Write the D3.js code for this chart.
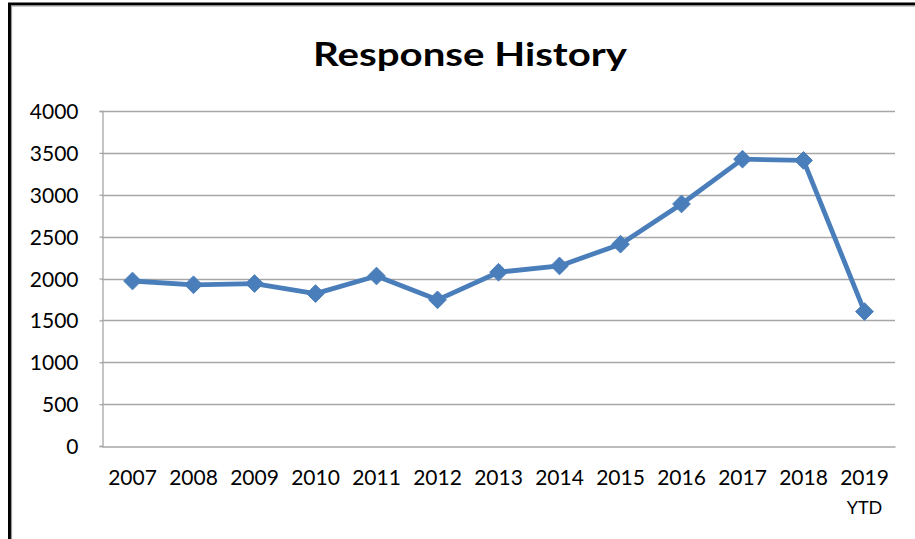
<!DOCTYPE html>
<html>
<head>
<meta charset="utf-8">
<script src="https://cdn.jsdelivr.net/npm/d3@7"></script>
<style>
  html, body { margin: 0; padding: 0; background: #fff; }
  svg { display: block; }
  text { font-family: Lato, "Open Sans", sans-serif; fill: #000; }
</style>
</head>
<body>
<svg id="chart" width="915" height="539"></svg>
<script>
// Yearly response counts
const years = ["2007", "2008", "2009", "2010", "2011", "2012", "2013",
               "2014", "2015", "2016", "2017", "2018", "2019"];
const yearSubLabels = ["", "", "", "", "", "", "", "", "", "", "", "", "YTD"];
const responses = [1970, 1925, 1940, 1820, 2030, 1745, 2075,
                   2150, 2410, 2890, 3425, 3410, 1605];
const yTicks = [0, 500, 1000, 1500, 2000, 2500, 3000, 3500, 4000];
const chartTitle = "Response History";

const W = 915, H = 539;
const margin = { left: 102, right: 20, top: 111, bottom: 93 };
const svg = d3.select("#chart");

// Chart frame (only top and left edges fall inside the view)
svg.append("rect").attr("x", 0).attr("y", 0).attr("width", W).attr("height", H).attr("fill", "#fff");
svg.append("line").attr("x1", 9.5).attr("x2", 9.5).attr("y1", 3).attr("y2", H).attr("stroke", "#000").attr("stroke-width", 3);
svg.append("line").attr("x1", 8).attr("x2", W).attr("y1", 4).attr("y2", 4).attr("stroke", "#000").attr("stroke-width", 3);
svg.append("line").attr("x1", 11.5).attr("x2", 11.5).attr("y1", 5.5).attr("y2", H).attr("stroke", "#9a9a9a").attr("stroke-width", 1.2);
svg.append("line").attr("x1", 11).attr("x2", W).attr("y1", 6).attr("y2", 6).attr("stroke", "#9a9a9a").attr("stroke-width", 1.2);

const x = d3.scaleBand().domain(years).range([margin.left, W - margin.right]);
const y = d3.scaleLinear().domain([0, 4000]).range([H - margin.bottom, margin.top]);

// Title
svg.append("text")
  .attr("x", 470).attr("y", 66)
  .attr("text-anchor", "middle")
  .attr("textLength", 314)
  .attr("lengthAdjust", "spacingAndGlyphs")
  .style("font-weight", "bold")
  .style("font-size", "32px")
  .text(chartTitle);

// Horizontal gridlines
svg.append("g")
  .selectAll("line")
  .data(yTicks.filter(d => d > 0))
  .join("line")
  .attr("x1", margin.left).attr("x2", W - margin.right)
  .attr("y1", d => Math.round(y(d)) + 0.5).attr("y2", d => Math.round(y(d)) + 0.5)
  .attr("stroke", "#a6a6a6").attr("stroke-width", 1.3);

// Y axis
const yAxis = svg.append("g")
  .attr("transform", `translate(${margin.left + 0.5},0)`)
  .call(d3.axisLeft(y).tickValues(yTicks).tickSize(3).tickPadding(21).tickFormat(d3.format("d")));
yAxis.select(".domain").attr("stroke", "#a6a6a6").attr("stroke-width", 1.3);
yAxis.selectAll(".tick line").attr("stroke", "#a6a6a6").attr("stroke-width", 1.3);
yAxis.selectAll(".tick text").style("font-size", "21px").style("font-family", "Lato, sans-serif").attr("fill", "#000").attr("dy", "0.36em");

// X axis
const xAxis = svg.append("g")
  .attr("transform", `translate(0,${Math.round(y(0)) + 0.5})`)
  .call(d3.axisBottom(x).tickSize(0).tickPadding(24));
xAxis.select(".domain").attr("stroke", "#a6a6a6").attr("stroke-width", 1.3);
xAxis.selectAll(".tick text")
  .style("font-size", "21px").style("font-family", "Lato, sans-serif").attr("fill", "#000")
  .each(function (d, i) {
    const sub = yearSubLabels[i];
    if (sub) {
      d3.select(this).append("tspan")
        .attr("x", 0).attr("dy", "1.6em")
        .style("font-size", "18px")
        .text(sub);
    }
  });

// Series line
const line = d3.line()
  .x((d, i) => x(years[i]) + x.bandwidth() / 2)
  .y(d => y(d));
svg.append("path")
  .datum(responses)
  .attr("d", line)
  .attr("fill", "none")
  .attr("stroke", "#4a7ebb")
  .attr("stroke-width", 4.8)
  .attr("stroke-linejoin", "round");

// Diamond markers
const diamond = d3.symbol().type(d3.symbolDiamond2).size(200);
svg.append("g")
  .selectAll("path")
  .data(responses)
  .join("path")
  .attr("transform", (d, i) => `translate(${x(years[i]) + x.bandwidth() / 2},${y(d)})`)
  .attr("d", diamond)
  .attr("fill", "#4a7ebb")
  .attr("stroke", "#4a7ebb")
  .attr("stroke-width", 1);
</script>
</body>
</html>
